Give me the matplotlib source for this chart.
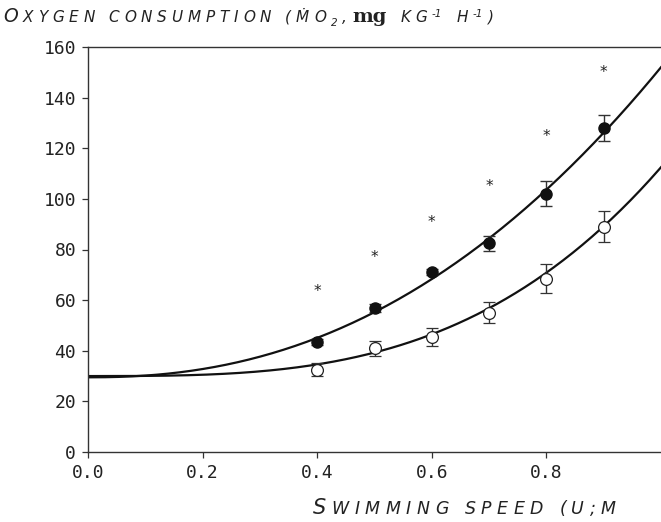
"""Oxygen consumption vs swimming speed."""

import numpy as np
import matplotlib
matplotlib.use("Agg")
import matplotlib.pyplot as plt

# Data
speed = [0.4, 0.5, 0.6, 0.7, 0.8, 0.9]
mo2_filled = [43.5, 57.0, 71.0, 82.5, 102.0, 128.0]
err_filled = [1.2, 1.5, 1.2, 3.0, 5.0, 5.0]
mo2_open = [32.5, 41.0, 45.5, 55.0, 68.5, 89.0]
err_open = [2.5, 3.0, 3.6, 4.2, 5.8, 6.2]
star_y = [63.5, 77.0, 90.5, 105.0, 124.5, 150.0]

# Fitted curves y = a + b * U^c
fit_filled = (29.5, 122.5, 2.25)
fit_open = (30.0, 82.5, 3.15)

xticks = [0.0, 0.2, 0.4, 0.6, 0.8]
xtick_labels = ["0.0", "0.2", "0.4", "0.6", "0.8"]
yticks = [0, 20, 40, 60, 80, 100, 120, 140, 160]

W, H = 661, 522
MONO = "DejaVu Sans Mono"
SANS = "DejaVu Sans"
INK = "#222222"

fig = plt.figure(figsize=(W / 100, H / 100), dpi=100)
ax = fig.add_axes([88 / W, 1 - 452 / H, 1 - 88 / W, (452 - 47) / H])

u = np.linspace(0, 1.0, 300)
for a, b, c in (fit_filled, fit_open):
    ax.plot(u, a + b * u ** c, color="#111111", lw=1.6, zorder=2)

ax.errorbar(speed, mo2_filled, yerr=err_filled, fmt="o", ms=8, mfc="#111111",
            mec="#111111", ecolor="#333333", elinewidth=1.0, capsize=4,
            capthick=1.0, zorder=3)
ax.errorbar(speed, mo2_open, yerr=err_open, fmt="o", ms=8.5, mfc="white",
            mec="#222222", mew=0.9, ecolor="#333333", elinewidth=1.0,
            capsize=4, capthick=1.0, zorder=3)

for x, y in zip(speed, star_y):
    ax.text(x, y, "*", ha="center", va="center", fontsize=11,
            family=SANS, color=INK)

ax.set_xlim(0, 1.0)
ax.set_ylim(0, 160)
ax.set_xticks(xticks)
ax.set_xticklabels(xtick_labels)
ax.set_yticks(yticks)
ax.tick_params(direction="out", length=4.5, width=0.9, colors="#333333",
               labelcolor=INK, labelsize=13, pad=4)
for lab in ax.get_xticklabels() + ax.get_yticklabels():
    lab.set_family(MONO)
for side in ("left", "bottom", "top"):
    ax.spines[side].set_color("#333333")
    ax.spines[side].set_linewidth(1.0)
ax.spines["right"].set_visible(False)


def tracked_text(x0, x1, baseline, segments):
    """Lay out letter-spaced text from x0 to x1 (pixels) on one baseline."""
    renderer = fig.canvas.get_renderer()
    pieces = []
    for text, size, dy, props, split in segments:
        for part in (list(text) if split else [text]):
            if part == " ":
                pieces.append((None, size * 0.3 * 100 / 72))
                continue
            t = fig.text(0, 0, part, fontsize=size, va="baseline", ha="left",
                         color=INK, **props)
            t._dy = dy
            pieces.append((t, t.get_window_extent(renderer).width))
    natural = sum(w for _, w in pieces)
    gap = (x1 - x0 - natural) / (len(pieces) - 1)
    x = x0
    for t, w in pieces:
        if t is not None:
            t.set_position((x / W, 1 - (baseline + t._dy) / H))
        x += w + gap


ital = dict(family=SANS, style="italic")
tracked_text(3, 494, 22, [
    ("O", 13.5, 0, ital, True),
    ("XYGEN CONSUMPTION (\u1e40O", 11, 0, ital, True),
    ("2", 7.5, 4, ital, True),
    (",", 11, 0, ital, True),
    ("mg", 14, 0, dict(family="DejaVu Serif", weight="bold"), False),
    (" KG", 11, 0, ital, True),
    ("-1", 7.5, -5, ital, False),
    (" H", 11, 0, ital, True),
    ("-1", 7.5, -5, ital, False),
    (")", 11, 0, ital, True),
])

tracked_text(313, 616, 514, [
    ("S", 15, 0, ital, True),
    ("WIMMING SPEED (U;M", 12.5, 0, ital, True),
])

fig.savefig("out.png", dpi=100)
plt.close(fig)
